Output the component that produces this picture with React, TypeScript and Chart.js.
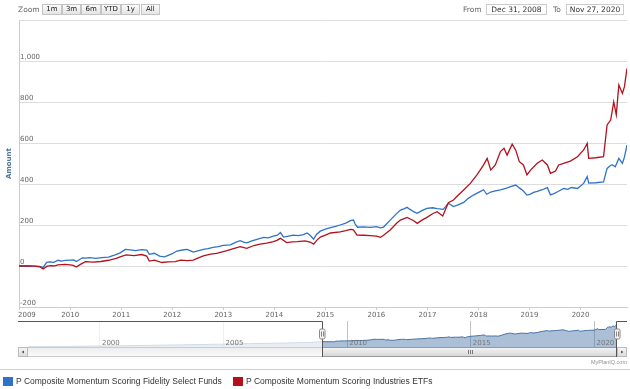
import React, { useEffect, useRef } from "react";
import { Chart, registerables } from "chart.js";
Chart.register(...registerables);

const fidelityDates = [2008.997, 2009.15, 2009.3, 2009.4, 2009.47, 2009.54, 2009.6, 2009.68, 2009.76, 2009.83, 2009.9, 2010.0, 2010.07, 2010.12, 2010.24, 2010.3, 2010.38, 2010.5, 2010.62, 2010.75, 2010.88, 2010.98, 2011.08, 2011.18, 2011.28, 2011.4, 2011.5, 2011.55, 2011.65, 2011.75, 2011.85, 2011.92, 2012.0, 2012.09, 2012.2, 2012.29, 2012.36, 2012.41, 2012.5, 2012.61, 2012.7, 2012.8, 2012.9, 2013.0, 2013.14, 2013.25, 2013.33, 2013.4, 2013.46, 2013.56, 2013.66, 2013.79, 2013.88, 2013.98, 2014.06, 2014.12, 2014.18, 2014.28, 2014.37, 2014.47, 2014.57, 2014.64, 2014.7, 2014.77, 2014.83, 2014.9, 2015.0, 2015.1, 2015.2, 2015.29, 2015.4, 2015.49, 2015.55, 2015.58, 2015.63, 2015.75, 2015.88, 2016.0, 2016.08, 2016.14, 2016.27, 2016.38, 2016.47, 2016.55, 2016.6, 2016.66, 2016.73, 2016.8, 2016.9, 2016.99, 2017.1, 2017.19, 2017.31, 2017.41, 2017.51, 2017.6, 2017.71, 2017.8, 2017.9, 2018.04, 2018.1, 2018.16, 2018.24, 2018.33, 2018.43, 2018.55, 2018.63, 2018.73, 2018.8, 2018.87, 2018.95, 2019.02, 2019.08, 2019.15, 2019.25, 2019.35, 2019.41, 2019.48, 2019.55, 2019.67, 2019.75, 2019.82, 2019.94, 2020.06, 2020.13, 2020.16, 2020.3, 2020.45, 2020.52, 2020.58, 2020.62, 2020.68, 2020.75, 2020.82, 2020.86, 2020.91];
const fidelityValues = [0, 1, -1, -2, -7, 18, 20, 18, 28, 24, 27, 29, 30, 22, 40, 38, 41, 37, 41, 43, 54, 64, 81, 79, 75, 80, 77, 57, 62, 48, 45, 52, 60, 73, 78, 81, 74, 68, 74, 81, 85, 91, 94, 101, 103, 116, 124, 117, 113, 122, 130, 140, 137, 146, 150, 163, 141, 146, 151, 148, 153, 161, 150, 131, 155, 170, 180, 187, 193, 200, 209, 221, 224, 206, 189, 191, 188, 192, 186, 190, 224, 252, 273, 280, 286, 276, 265, 257, 271, 281, 284, 280, 276, 306, 290, 298, 310, 330, 346, 364, 372, 350, 361, 366, 371, 380, 387, 395, 381, 368, 346, 351, 359, 364, 372, 382, 347, 353, 362, 378, 374, 383, 378, 403, 436, 404, 406, 410, 476, 489, 494, 484, 525, 501, 531, 590];

const industriesDates = [2008.997, 2009.15, 2009.3, 2009.4, 2009.47, 2009.55, 2009.62, 2009.7, 2009.76, 2009.9, 2010.0, 2010.06, 2010.12, 2010.2, 2010.3, 2010.45, 2010.6, 2010.75, 2010.9, 2011.02, 2011.1, 2011.25, 2011.4, 2011.5, 2011.55, 2011.65, 2011.8, 2011.92, 2012.06, 2012.16, 2012.3, 2012.41, 2012.5, 2012.61, 2012.75, 2012.87, 2013.07, 2013.2, 2013.33, 2013.46, 2013.6, 2013.72, 2013.85, 2013.98, 2014.05, 2014.12, 2014.24, 2014.35, 2014.45, 2014.6, 2014.7, 2014.77, 2014.83, 2014.9, 2015.0, 2015.1, 2015.29, 2015.4, 2015.49, 2015.55, 2015.62, 2015.75, 2015.88, 2016.0, 2016.08, 2016.14, 2016.27, 2016.4, 2016.47, 2016.6, 2016.73, 2016.8, 2016.9, 2016.99, 2017.1, 2017.19, 2017.3, 2017.41, 2017.51, 2017.6, 2017.71, 2017.84, 2017.97, 2018.04, 2018.1, 2018.17, 2018.24, 2018.33, 2018.43, 2018.5, 2018.56, 2018.66, 2018.73, 2018.8, 2018.88, 2018.95, 2019.02, 2019.15, 2019.25, 2019.35, 2019.41, 2019.51, 2019.57, 2019.67, 2019.8, 2019.94, 2020.06, 2020.13, 2020.16, 2020.3, 2020.45, 2020.52, 2020.59, 2020.65, 2020.7, 2020.75, 2020.82, 2020.86, 2020.91];
const industriesValues = [0, 1, -1, -4, -15, -1, 2, 1, 5, 8, 6, 3, -5, 8, 21, 19, 22, 28, 37, 48, 54, 51, 56, 48, 24, 29, 17, 20, 21, 29, 26, 29, 38, 49, 58, 62, 75, 85, 94, 86, 100, 107, 112, 119, 125, 135, 114, 118, 119, 123, 117, 107, 125, 141, 151, 161, 166, 172, 179, 176, 151, 150, 148, 146, 140, 150, 176, 210, 224, 237, 221, 208, 225, 237, 255, 265, 244, 309, 322, 345, 371, 403, 444, 470, 493, 525, 468, 493, 558, 574, 541, 594, 565, 509, 493, 444, 468, 501, 517, 493, 452, 463, 493, 501, 512, 533, 566, 598, 525, 528, 533, 688, 712, 801, 737, 883, 842, 875, 964];

const yearTicks = [2009, 2010, 2011, 2012, 2013, 2014, 2015, 2016, 2017, 2018, 2019, 2020];
const yTickValues = [-200, 0, 200, 400, 600, 800, 1000, 1200];
const yTickLabels = ["-200", "0", "200", "400", "600", "800", "1,000", ""];

const navPreDates = [1997.09, 1998.5, 2000, 2001.5, 2003, 2004.5, 2006, 2007.5, 2008.5];
const navPreValues = [-167, -160, -143, -128, -110, -88, -66, -45, -25];
const navTickYears = [2000, 2005, 2010, 2015, 2020];

const zoomButtons = ["1m", "3m", "6m", "YTD", "1y", "All"];
const fromDate = "Dec 31, 2008";
const toDate = "Nov 27, 2020";
const seriesNames = ["P Composite Momentum Scoring Fidelity Select Funds", "P Composite Momentum Scoring Industries ETFs"];
const seriesColors = ["#2f73c8", "#b3121d"];

const AXIS_FONT = '7px "DejaVu Sans"';

export default function App() {
  const mainRef = useRef<HTMLCanvasElement>(null);
  const navRef = useRef<HTMLCanvasElement>(null);

  useEffect(() => {
    document.body.style.margin = "0";
    const axisPlugin = {
      id: "axisText",
      beforeDatasetsDraw(chart: any) {
        const { ctx, chartArea, scales } = chart;
        ctx.save();
        ctx.font = AXIS_FONT;
        ctx.fillStyle = "#666";
        ctx.textAlign = "left";
        ctx.textBaseline = "alphabetic";
        yTickValues.forEach((v, i) => {
          if (!yTickLabels[i]) return;
          const py = scales.y.getPixelForValue(v);
          ctx.fillText(yTickLabels[i], chartArea.left + 1, py - 2);
        });
        yearTicks.forEach((yr) => {
          const px = scales.x.getPixelForValue(yr);
          const t = String(yr);
          const w = ctx.measureText(t).width;
          let left = px - w / 2;
          if (left < chartArea.left - 1) left = chartArea.left - 1;
          ctx.fillText(t, left, chartArea.bottom + 10);
        });
        ctx.translate(9, (chartArea.top + chartArea.bottom) / 2);
        ctx.rotate(-Math.PI / 2);
        ctx.textAlign = "center";
        ctx.textBaseline = "middle";
        ctx.fillStyle = "#4d759e";
        ctx.font = 'bold 7px "DejaVu Sans"';
        ctx.fillText("Amount", 0, 0);
        ctx.restore();
      },
    };

    const main = new Chart(mainRef.current!, {
      type: "line",
      data: {
        datasets: [
          {
            label: seriesNames[0],
            data: fidelityDates.map((d, i) => ({ x: d, y: fidelityValues[i] })),
            borderColor: seriesColors[0],
            borderWidth: 1.3,
            pointRadius: 0,
            tension: 0,
            order: 1,
          },
          {
            label: seriesNames[1],
            data: industriesDates.map((d, i) => ({ x: d, y: industriesValues[i] })),
            borderColor: seriesColors[1],
            borderWidth: 1.3,
            pointRadius: 0,
            tension: 0,
            order: 0,
          },
        ],
      },
      options: {
        responsive: false,
        animation: false,
        maintainAspectRatio: false,
        layout: { padding: { left: 19, right: 3, top: 20, bottom: 1 } },
        plugins: { legend: { display: false }, tooltip: { enabled: false } },
        scales: {
          x: {
            type: "linear",
            min: 2008.997,
            max: 2020.91,
            afterBuildTicks: (s: any) => {
              s.ticks = yearTicks.map((v) => ({ value: v }));
            },
            afterFit: (s: any) => {
              s.height = 14;
            },
            ticks: { display: false },
            grid: { drawOnChartArea: false, tickLength: 3, color: "#C0D0E0" },
            border: { color: "#C0D0E0" },
          },
          y: {
            min: -200,
            max: 1200,
            afterBuildTicks: (s: any) => {
              s.ticks = yTickValues.map((v) => ({ value: v }));
            },
            ticks: { display: false },
            grid: { color: "#DDDDDD", drawTicks: false },
            border: { color: "#C0D0E0" },
          },
        },
      },
      plugins: [axisPlugin],
    } as any);

    const navPlugin = {
      id: "navDeco",
      afterDraw(chart: any) {
        const { ctx, chartArea, scales } = chart;
        const x = scales.x;
        const top = chartArea.top;
        const bottom = chartArea.bottom;
        const xMin = Math.round(x.getPixelForValue(fidelityDates[0]));
        const xMax = Math.round(x.getPixelForValue(fidelityDates[fidelityDates.length - 1]));
        const L = chartArea.left - 10;
        const R = chartArea.right + 10;
        ctx.save();
        // mask
        ctx.fillStyle = "rgba(255,255,255,0.75)";
        ctx.fillRect(chartArea.left, top, xMin - chartArea.left, bottom - top);
        // labels
        ctx.font = AXIS_FONT;
        ctx.fillStyle = "#777";
        ctx.textAlign = "left";
        navTickYears.forEach((yr) => {
          ctx.fillText(String(yr), x.getPixelForValue(yr) + 2, bottom - 2);
        });
        // scrollbar track
        const sy = bottom;
        const sh = 10;
        let g = ctx.createLinearGradient(0, sy, 0, sy + sh);
        g.addColorStop(0, "#ececec");
        g.addColorStop(1, "#fbfbfb");
        ctx.fillStyle = g;
        ctx.fillRect(L, sy, R - L, sh);
        ctx.strokeStyle = "#cccccc";
        ctx.lineWidth = 1;
        ctx.strokeRect(L + 0.5, sy + 0.5, R - L - 1, sh - 1);
        // thumb
        g = ctx.createLinearGradient(0, sy, 0, sy + sh);
        g.addColorStop(0, "#f6f6f6");
        g.addColorStop(1, "#d4d4d4");
        ctx.fillStyle = g;
        ctx.fillRect(xMin, sy, xMax - xMin, sh);
        ctx.strokeStyle = "#999";
        ctx.strokeRect(xMin + 0.5, sy + 0.5, xMax - xMin - 1, sh - 1);
        const cx = Math.round((xMin + xMax) / 2);
        ctx.strokeStyle = "#777";
        ctx.beginPath();
        [-2, 0, 2].forEach((d) => {
          ctx.moveTo(cx + d + 0.5, sy + 3);
          ctx.lineTo(cx + d + 0.5, sy + 7);
        });
        ctx.stroke();
        // buttons
        [L, chartArea.right].forEach((bx, i) => {
          const bg = ctx.createLinearGradient(0, sy, 0, sy + sh);
          bg.addColorStop(0, "#f8f8f8");
          bg.addColorStop(1, "#dadada");
          ctx.fillStyle = bg;
          ctx.fillRect(bx, sy, 10, sh);
          ctx.strokeStyle = "#bbbbbb";
          ctx.strokeRect(bx + 0.5, sy + 0.5, 9, sh - 1);
          ctx.fillStyle = "#555";
          ctx.beginPath();
          if (i === 0) {
            ctx.moveTo(bx + 3.5, sy + 5);
            ctx.lineTo(bx + 6, sy + 3.5);
            ctx.lineTo(bx + 6, sy + 6.5);
          } else {
            ctx.moveTo(bx + 6.5, sy + 5);
            ctx.lineTo(bx + 4, sy + 3.5);
            ctx.lineTo(bx + 4, sy + 6.5);
          }
          ctx.closePath();
          ctx.fill();
        });
        // outline
        ctx.strokeStyle = "#555";
        ctx.beginPath();
        ctx.moveTo(L, top + 0.5);
        ctx.lineTo(xMin + 0.5, top + 0.5);
        ctx.lineTo(xMin + 0.5, sy + sh);
        ctx.moveTo(xMax - 0.5, sy + sh);
        ctx.lineTo(xMax - 0.5, top + 0.5);
        ctx.lineTo(R, top + 0.5);
        ctx.stroke();
        // handles
        const my = (top + bottom) / 2;
        [xMin, xMax].forEach((hx) => {
          ctx.fillStyle = "#f2f2f2";
          ctx.strokeStyle = "#888";
          ctx.beginPath();
          (ctx as any).roundRect(hx - 2.5, my - 5, 5.5, 10, 1.5);
          ctx.fill();
          ctx.stroke();
          ctx.beginPath();
          ctx.moveTo(hx - 0.5, my - 2.5);
          ctx.lineTo(hx - 0.5, my + 2.5);
          ctx.moveTo(hx + 1.5, my - 2.5);
          ctx.lineTo(hx + 1.5, my + 2.5);
          ctx.stroke();
        });
        ctx.restore();
      },
    };

    const navPoints = [
      ...navPreDates.map((d, i) => ({ x: d, y: navPreValues[i] })),
      ...fidelityDates.map((d, i) => ({ x: d, y: fidelityValues[i] })),
    ];

    const nav = new Chart(navRef.current!, {
      type: "line",
      data: {
        datasets: [
          {
            data: navPoints,
            borderColor: "#4572A7",
            borderWidth: 1,
            backgroundColor: "rgba(69,114,167,0.45)",
            fill: "start",
            pointRadius: 0,
            tension: 0,
          },
        ],
      },
      options: {
        responsive: false,
        animation: false,
        maintainAspectRatio: false,
        layout: { padding: { left: 28, right: 13, top: 6, bottom: 13 } },
        plugins: { legend: { display: false }, tooltip: { enabled: false } },
        scales: {
          x: {
            type: "linear",
            min: 1997.09,
            max: 2020.91,
            afterBuildTicks: (s: any) => {
              s.ticks = navTickYears.map((v) => ({ value: v }));
            },
            ticks: { display: false },
            grid: { color: "#C4C4C4", drawTicks: false },
            border: { display: false },
          },
          y: { display: false, min: -177, max: 690 },
        },
      },
      plugins: [navPlugin],
    } as any);

    return () => {
      main.destroy();
      nav.destroy();
    };
  }, []);

  const btnLeft = 42;
  const btnW = 19.7;

  return (
    <div
      style={{
        position: "absolute",
        left: 0,
        top: 0,
        width: 630,
        height: 389,
        background: "#fff",
        overflow: "hidden",
        fontFamily: '"DejaVu Sans", sans-serif',
      }}
    >
      <canvas ref={mainRef} width={630} height={322} style={{ position: "absolute", left: 0, top: 0 }} />
      <canvas ref={navRef} width={630} height={45} style={{ position: "absolute", left: 0, top: 315 }} />

      <div style={{ position: "absolute", left: 18, top: 4, fontSize: 7.5, lineHeight: "11px", color: "#666" }}>Zoom</div>
      {zoomButtons.map((b, i) => (
        <div
          key={b}
          style={{
            position: "absolute",
            left: btnLeft + i * btnW,
            top: 4,
            width: btnW,
            height: 11,
            boxSizing: "border-box",
            border: "1px solid #c4c4c4",
            background: "linear-gradient(#fbfbfb, #e4e4e4)",
            fontSize: 7,
            lineHeight: "9px",
            textAlign: "center",
            color: "#111",
          }}
        >
          {b}
        </div>
      ))}
      <div style={{ position: "absolute", left: 463, top: 4, fontSize: 7.5, lineHeight: "11px", color: "#666" }}>From</div>
      <div
        style={{
          position: "absolute",
          left: 486,
          top: 4,
          width: 61,
          height: 11,
          boxSizing: "border-box",
          border: "1px solid #cccccc",
          fontSize: 7.5,
          lineHeight: "9px",
          textAlign: "center",
          color: "#333",
        }}
      >
        {fromDate}
      </div>
      <div style={{ position: "absolute", left: 553, top: 4, fontSize: 7.5, lineHeight: "11px", color: "#666" }}>To</div>
      <div
        style={{
          position: "absolute",
          left: 566,
          top: 4,
          width: 58,
          height: 11,
          boxSizing: "border-box",
          border: "1px solid #cccccc",
          fontSize: 7.5,
          lineHeight: "9px",
          textAlign: "center",
          color: "#333",
        }}
      >
        {toDate}
      </div>

      <div
        style={{
          position: "absolute",
          right: 3,
          top: 359,
          fontFamily: '"Liberation Sans", sans-serif',
          fontSize: 5.5,
          lineHeight: "7px",
          color: "#909090",
        }}
      >
        MyPlanIQ.com
      </div>
      <div style={{ position: "absolute", left: 0, top: 369, width: 630, height: 1, background: "#cfcfcf" }} />

      {seriesNames.map((name, i) => (
        <div
          key={name}
          style={{
            position: "absolute",
            left: i === 0 ? 3 : 233,
            top: 376,
            height: 10,
            display: "flex",
            alignItems: "center",
            fontFamily: '"Liberation Sans", sans-serif',
            fontSize: 8.5,
            color: "#333",
            whiteSpace: "nowrap",
          }}
        >
          <span style={{ display: "inline-block", width: 10, height: 9, background: seriesColors[i], marginRight: 3 }} />
          {name}
        </div>
      ))}
    </div>
  );
}
